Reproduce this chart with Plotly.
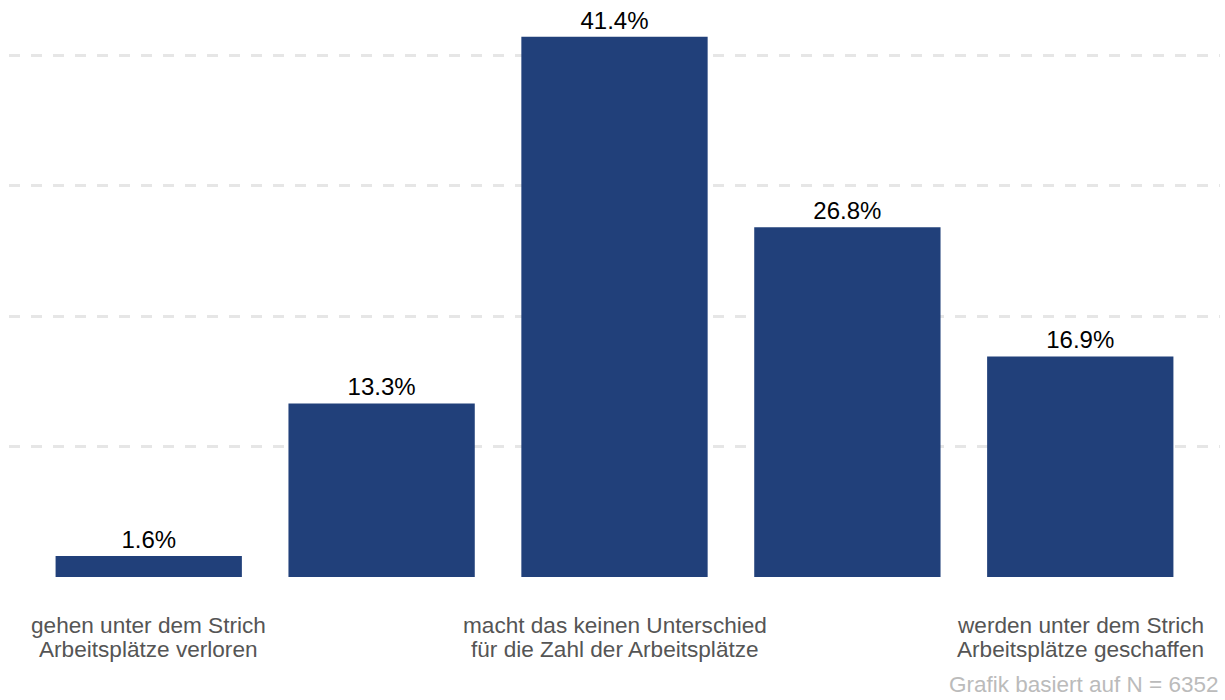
import plotly.graph_objects as go

# Antwortskala (5 Stufen) und Anteile in Prozent
categories = ["Stufe 1", "Stufe 2", "Stufe 3", "Stufe 4", "Stufe 5"]
shares = [1.6, 13.3, 41.4, 26.8, 16.9]
tick_labels = [
    "gehen unter dem Strich<br>Arbeitsplätze verloren",
    "",
    "macht das keinen Unterschied<br>für die Zahl der Arbeitsplätze",
    "",
    "werden unter dem Strich<br>Arbeitsplätze geschaffen",
]
grid_values = [0, 10, 20, 30, 40]
caption = "Grafik basiert auf N = 6352"

FONT = "Liberation Sans, Arial, sans-serif"

fig = go.Figure(
    go.Bar(
        x=categories,
        y=shares,
        marker=dict(color="#21407a", line=dict(width=0)),
        texttemplate="%{y:.1f}%",
        textposition="outside",
        textfont=dict(size=24, color="#000000", family=FONT),
        cliponaxis=False,
        hoverinfo="skip",
    )
)

# Category labels drawn line by line for a tighter line spacing
annotations = []
line_y = [-0.0855, -0.1279]
for cat, label in zip(categories, tick_labels):
    if not label:
        continue
    for i, line in enumerate(label.split("<br>")):
        annotations.append(
            dict(
                text=line,
                x=cat,
                xref="x",
                y=line_y[i],
                yref="paper",
                xanchor="center",
                yanchor="middle",
                showarrow=False,
                font=dict(size=22.6, color="#555555", family=FONT),
            )
        )

annotations.append(
    dict(
        text=caption,
        xref="paper",
        yref="paper",
        x=1.0005,
        y=-0.1896,
        xanchor="right",
        yanchor="middle",
        showarrow=False,
        font=dict(size=22.5, color="#bbbbbb", family=FONT),
    )
)

fig.update_layout(
    width=1225,
    height=700,
    margin=dict(l=9, r=5, t=10, b=123),
    paper_bgcolor="white",
    plot_bgcolor="white",
    bargap=0.2,
    showlegend=False,
    font=dict(family=FONT),
    xaxis=dict(
        type="category",
        range=[-0.6, 4.6],
        showticklabels=False,
        showgrid=False,
        showline=False,
        ticks="",
    ),
    yaxis=dict(
        range=[0, 43.45],
        tickmode="array",
        tickvals=grid_values,
        showticklabels=False,
        showgrid=True,
        gridcolor="#e6e6e6",
        gridwidth=3,
        griddash="11px,11px",
        zeroline=False,
        showline=False,
    ),
    annotations=annotations,
)

fig.write_html("out.html")
